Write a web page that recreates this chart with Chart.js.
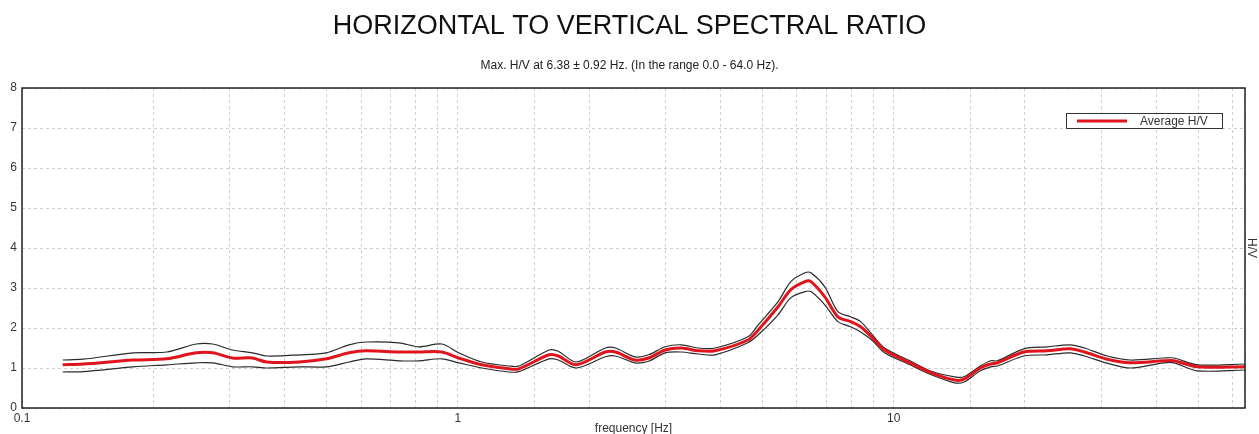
<!DOCTYPE html>
<html>
<head>
<meta charset="utf-8">
<script src="https://cdn.jsdelivr.net/npm/chart.js@4"></script>
<style>
  html, body { margin: 0; padding: 0; background: #fff; }
  canvas { display: block; }
</style>
</head>
<body>
<canvas id="hvChart" width="1259" height="434"></canvas>
<script>
// Data
const freq = [0.124, 0.138, 0.180, 0.215, 0.251, 0.274, 0.304, 0.338, 0.364, 0.433,
  0.499, 0.563, 0.616, 0.733, 0.814, 0.919, 1.005, 1.135, 1.31, 1.38,
  1.62, 1.70, 1.87, 2.18, 2.30, 2.55, 2.74, 2.99, 3.26, 3.56,
  3.89, 4.63, 4.89, 5.43, 5.81, 6.26, 6.46, 6.95, 7.45, 7.97,
  8.40, 8.95, 9.53, 10.9, 12.2, 13.8, 14.5, 15.8, 16.7, 17.3,
  19.9, 22.5, 25.4, 27.4, 30.9, 34.9, 41.7, 44.0, 49.7, 64];

const avgHV = [1.08, 1.10, 1.20, 1.23, 1.38, 1.38, 1.25, 1.25, 1.15, 1.15,
  1.23, 1.38, 1.43, 1.40, 1.40, 1.40, 1.25, 1.08, 0.98, 0.98,
  1.33, 1.30, 1.08, 1.40, 1.40, 1.20, 1.25, 1.45, 1.50, 1.43,
  1.43, 1.70, 1.95, 2.53, 2.96, 3.16, 3.16, 2.78, 2.28, 2.16,
  2.03, 1.75, 1.45, 1.13, 0.88, 0.70, 0.72, 1.00, 1.10, 1.13,
  1.40, 1.43, 1.48, 1.40, 1.22, 1.13, 1.18, 1.18, 1.03, 1.03];

const upperHV = [1.20, 1.22, 1.38, 1.40, 1.60, 1.60, 1.45, 1.38, 1.30, 1.33,
  1.38, 1.58, 1.65, 1.63, 1.53, 1.60, 1.38, 1.15, 1.05, 1.05,
  1.45, 1.42, 1.15, 1.50, 1.50, 1.28, 1.33, 1.53, 1.58, 1.50,
  1.50, 1.78, 2.08, 2.66, 3.16, 3.38, 3.38, 3.03, 2.41, 2.28,
  2.16, 1.82, 1.50, 1.18, 0.92, 0.78, 0.78, 1.05, 1.18, 1.18,
  1.48, 1.53, 1.58, 1.50, 1.30, 1.20, 1.25, 1.25, 1.08, 1.10];

const lowerHV = [0.90, 0.91, 1.03, 1.08, 1.13, 1.13, 1.03, 1.03, 1.00, 1.03,
  1.03, 1.15, 1.23, 1.18, 1.18, 1.23, 1.13, 1.00, 0.90, 0.91,
  1.23, 1.20, 1.00, 1.28, 1.30, 1.13, 1.17, 1.38, 1.40, 1.35,
  1.33, 1.63, 1.83, 2.33, 2.76, 2.91, 2.91, 2.58, 2.16, 2.03,
  1.90, 1.68, 1.38, 1.08, 0.83, 0.63, 0.65, 0.93, 1.03, 1.05,
  1.30, 1.33, 1.38, 1.30, 1.12, 1.00, 1.13, 1.13, 0.93, 0.95];

const xTickValues = [0.1, 1, 10];
const xTickLabels = ['0.1', '1', '10'];

const FONT = '"Liberation Sans", Arial, sans-serif';

function toPoints(values) {
    return freq.map((f, i) => ({ x: f, y: values[i] }));
}

// Frame around the plot area and the small legend box
const framePlugin = {
    id: 'frame',
    afterDraw(chart) {
        const { ctx, chartArea: a } = chart;
        ctx.save();
        ctx.setLineDash([]);
        ctx.strokeStyle = '#222';
        ctx.lineWidth = 1.5;
        ctx.strokeRect(a.left, a.top, a.right - a.left, a.bottom - a.top);

        // legend
        const lx = 1066, ly = 113, lw = 156, lh = 15;
        ctx.fillStyle = '#fff';
        ctx.fillRect(lx, ly, lw, lh);
        ctx.lineWidth = 1;
        ctx.strokeStyle = '#333';
        ctx.strokeRect(lx + 0.5, ly + 0.5, lw, lh);
        ctx.strokeStyle = '#e0141c';
        ctx.lineWidth = 3;
        ctx.beginPath();
        ctx.moveTo(lx + 11, ly + 8);
        ctx.lineTo(lx + 61, ly + 8);
        ctx.stroke();
        ctx.fillStyle = '#333';
        ctx.font = '12px ' + FONT;
        ctx.textBaseline = 'middle';
        ctx.textAlign = 'left';
        ctx.fillText('Average H/V', lx + 74, ly + 8.5);
        ctx.restore();
    }
};

function initChart() {
    const ctx = document.getElementById('hvChart').getContext('2d');
    const gridStyle = { color: '#cfcfcf', lineWidth: 1, drawTicks: false };

    new Chart(ctx, {
        type: 'line',
        data: {
            datasets: [{
                label: 'Average H/V',
                data: toPoints(avgHV),
                borderColor: '#e0141c',
                borderWidth: 3,
                pointRadius: 0,
                tension: 0.3
            }, {
                label: 'upper',
                data: toPoints(upperHV),
                borderColor: '#2a2a2a',
                borderWidth: 1.2,
                pointRadius: 0,
                tension: 0.3
            }, {
                label: 'lower',
                data: toPoints(lowerHV),
                borderColor: '#2a2a2a',
                borderWidth: 1.2,
                pointRadius: 0,
                tension: 0.3
            }]
        },
        options: {
            responsive: false,
            animation: false,
            layout: { padding: 0 },
            plugins: {
                legend: { display: false },
                tooltip: { enabled: false },
                title: {
                    display: true,
                    text: 'HORIZONTAL TO VERTICAL SPECTRAL RATIO',
                    color: '#111',
                    font: { family: FONT, size: 27, weight: 'normal' },
                    padding: { top: 10.8, bottom: 15.6 }
                },
                subtitle: {
                    display: true,
                    text: 'Max. H/V at 6.38 \u00b1 0.92 Hz. (In the range 0.0 - 64.0 Hz).',
                    color: '#222',
                    font: { family: FONT, size: 12 },
                    padding: { top: 0, bottom: 14.8 }
                }
            },
            scales: {
                x: {
                    type: 'logarithmic',
                    min: 0.1,
                    max: 64,
                    afterFit: s => { s.height = 26; },
                    grid: gridStyle,
                    border: { display: false, dash: [3, 3] },
                    ticks: {
                        autoSkip: false,
                        maxRotation: 0,
                        padding: 3,
                        color: '#333',
                        font: { family: FONT, size: 12 },
                        callback: value => {
                            const i = xTickValues.findIndex(v => Math.abs(v - value) < 1e-9);
                            return i >= 0 ? xTickLabels[i] : '';
                        }
                    },
                    title: {
                        display: true,
                        text: 'frequency [Hz]',
                        color: '#333',
                        font: { family: FONT, size: 12 },
                        padding: { top: 0, bottom: -2 }
                    }
                },
                y: {
                    min: 0,
                    max: 8,
                    afterFit: s => { s.width = 22; },
                    grid: gridStyle,
                    border: { display: false, dash: [3, 3] },
                    ticks: {
                        stepSize: 1,
                        padding: 5,
                        color: '#333',
                        font: { family: FONT, size: 12 }
                    }
                },
                y2: {
                    position: 'right',
                    afterFit: s => { s.width = 14; },
                    grid: { display: false },
                    border: { display: false },
                    ticks: { display: false },
                    title: {
                        display: true,
                        text: 'H/V',
                        color: '#333',
                        font: { family: FONT, size: 12 },
                        padding: 0
                    }
                }
            }
        },
        plugins: [framePlugin]
    });
}

document.addEventListener('DOMContentLoaded', initChart);
</script>
</body>
</html>
